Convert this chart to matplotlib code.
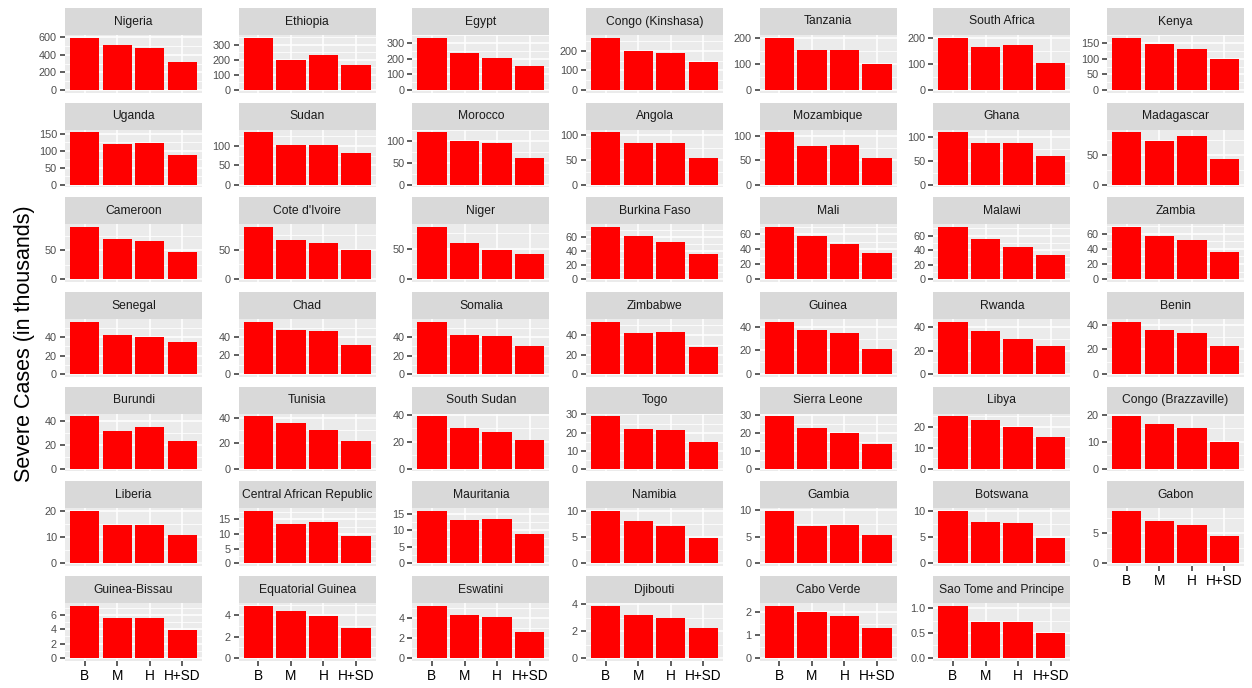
import math
import matplotlib
matplotlib.use("Agg")
import matplotlib.pyplot as plt

plt.rcParams['font.family'] = ['Liberation Sans', 'DejaVu Sans']

countries = [
    "Nigeria", "Ethiopia", "Egypt", "Congo (Kinshasa)", "Tanzania", "South Africa", "Kenya",
    "Uganda", "Sudan", "Morocco", "Angola", "Mozambique", "Ghana", "Madagascar",
    "Cameroon", "Cote d'Ivoire", "Niger", "Burkina Faso", "Mali", "Malawi", "Zambia",
    "Senegal", "Chad", "Somalia", "Zimbabwe", "Guinea", "Rwanda", "Benin",
    "Burundi", "Tunisia", "South Sudan", "Togo", "Sierra Leone", "Libya", "Congo (Brazzaville)",
    "Liberia", "Central African Republic", "Mauritania", "Namibia", "Gambia", "Botswana", "Gabon",
    "Guinea-Bissau", "Equatorial Guinea", "Eswatini", "Djibouti", "Cabo Verde", "Sao Tome and Principe",
]
scenarios = ["B", "M", "H", "H+SD"]

# severe cases (thousands) per scenario
b_vals = [596, 346, 336, 268, 200, 203, 168,
          155, 135, 120, 106, 107, 110, 88,
          90, 88, 85.5, 74, 69.5, 72, 69,
          57, 56.5, 57, 54, 44.5, 45, 42.4,
          44, 41, 39, 29, 29.5, 25, 19.5,
          20, 17.8, 15.8, 10, 9.9, 10, 8.7,
          7.3, 4.9, 5.2, 3.9, 2.3, 1.05]
m_vals = [513, 199, 234, 200, 154, 165, 146,
          120, 103, 100, 84, 79, 88, 73,
          70, 66, 60, 60.5, 58, 55.5, 56.5,
          42.4, 47.8, 42, 42, 37.3, 36.6, 36,
          32, 36, 30, 22, 23, 23, 16.5,
          14.8, 13.2, 13.1, 8.1, 7.1, 7.8, 7,
          5.6, 4.4, 4.3, 3.2, 2.0, 0.72]
h_vals = [483, 230, 206, 191, 154, 173, 133,
          122, 101, 96, 84, 80, 88, 82,
          65, 61, 48.4, 53, 47.4, 45, 51.7,
          40.3, 46.4, 41.4, 43.7, 34.7, 30.4, 32.8,
          35, 30, 27, 21.5, 20, 20, 15,
          14.6, 14.1, 13.4, 7.15, 7.25, 7.7, 6.3,
          5.6, 3.9, 4.1, 3.0, 1.85, 0.73]
hsd_vals = [313, 168, 153, 144, 100, 106, 100,
            87, 82, 60, 53, 55, 60, 43,
            46.6, 50, 41, 36.3, 34.6, 33, 36.5,
            35.3, 31.7, 30, 27.8, 21, 23.9, 22.9,
            23, 22, 21, 14.5, 14, 15, 10,
            10.9, 9.4, 8.8, 4.9, 5.4, 4.9, 4.45,
            3.9, 2.8, 2.6, 2.2, 1.3, 0.5]


def pretty(lo, hi, n=3, h=1.5):
    # R's pretty() step choice
    h5 = 0.5 + 1.5 * h
    cell = (hi - lo) / n
    base = 10 ** math.floor(math.log10(cell))
    unit = base
    if 2 * base - cell < h * (cell - unit):
        unit = 2 * base
        if 5 * base - cell < h5 * (cell - unit):
            unit = 5 * base
            if 10 * base - cell < h * (cell - unit):
                unit = 10 * base
    eps = 1e-10
    ns = math.floor(lo / unit + eps)
    nu = math.ceil(hi / unit - eps)
    while ns * unit > lo + eps * unit:
        ns -= 1
    while nu * unit < hi - eps * unit:
        nu += 1
    return [i * unit for i in range(ns, nu + 1)], unit


def fmt_labels(vals):
    dec = 0
    for v in vals:
        while dec < 4 and abs(round(v, dec) - v) > 1e-9:
            dec += 1
    return [f"{v:.{dec}f}" for v in vals]


W, H = 1252, 688
fig = plt.figure(figsize=(W / 100, H / 100), dpi=100)

ncol = 7
col_x0, col_pitch, panel_w = 65, 173.67, 137
row_y0, row_pitch, strip_h, panel_h = 8, 94.67, 27, 57.5
n = len(countries)
x = list(range(1, 5))

for idx, name in enumerate(countries):
    r, c = divmod(idx, ncol)
    left = col_x0 + c * col_pitch
    top = row_y0 + r * row_pitch
    # strip
    sax = fig.add_axes([left / W, 1 - (top + strip_h) / H, panel_w / W, strip_h / H])
    sax.set_facecolor('#D9D9D9')
    sax.set_xticks([])
    sax.set_yticks([])
    for sp in sax.spines.values():
        sp.set_visible(False)
    sax.text(0.5, 0.5, name, ha='center', va='center', fontsize=8.7,
             color='#1A1A1A', transform=sax.transAxes)

    # panel
    ax = fig.add_axes([left / W, 1 - (top + strip_h + panel_h) / H, panel_w / W, panel_h / H])
    ax.set_facecolor('#EBEBEB')
    vals = [b_vals[idx], m_vals[idx], h_vals[idx], hsd_vals[idx]]
    vmax = max(vals)
    lo, hi = -0.05 * vmax, 1.05 * vmax
    ax.set_ylim(lo, hi)
    ax.set_xlim(0.4, 4.6)

    brks, step = pretty(lo, hi)
    tol = 1e-9 * vmax
    major = [b for b in brks if lo - tol <= b <= hi + tol]
    # minor grid at midpoints
    ext = [major[0] - step] + major + [major[-1] + step]
    minor = [(a + b) / 2 for a, b in zip(ext[:-1], ext[1:])]
    for mv in minor:
        if lo < mv < hi:
            ax.axhline(mv, color='white', lw=0.55, zorder=0.5)
    for mv in major:
        ax.axhline(mv, color='white', lw=1.1, zorder=0.6)
    for xv in x:
        ax.axvline(xv, color='white', lw=1.1, zorder=0.6)

    ax.bar(x, vals, width=0.9, color='#FF0000', zorder=2)

    ax.set_yticks(major)
    ax.set_yticklabels(fmt_labels(major))
    ax.tick_params(axis='y', length=3.8, width=1.1, color='#333333',
                   labelsize=7.8, labelcolor='#4D4D4D', pad=2)
    for sp in ax.spines.values():
        sp.set_visible(False)

    bottom_of_col = (idx + ncol >= n)
    if bottom_of_col:
        ax.set_xticks(x)
        ax.set_xticklabels(scenarios)
        ax.tick_params(axis='x', length=3.8, width=1.1, color='#333333',
                       labelsize=9.8, labelcolor='black', pad=2)
    else:
        ax.set_xticks([])

fig.text(25 / W, 1 - 344 / H, "Severe Cases (in thousands)", rotation=90,
         ha='center', va='center', fontsize=15.5, color='black')

fig.savefig("out.png", dpi=100, facecolor='white')
